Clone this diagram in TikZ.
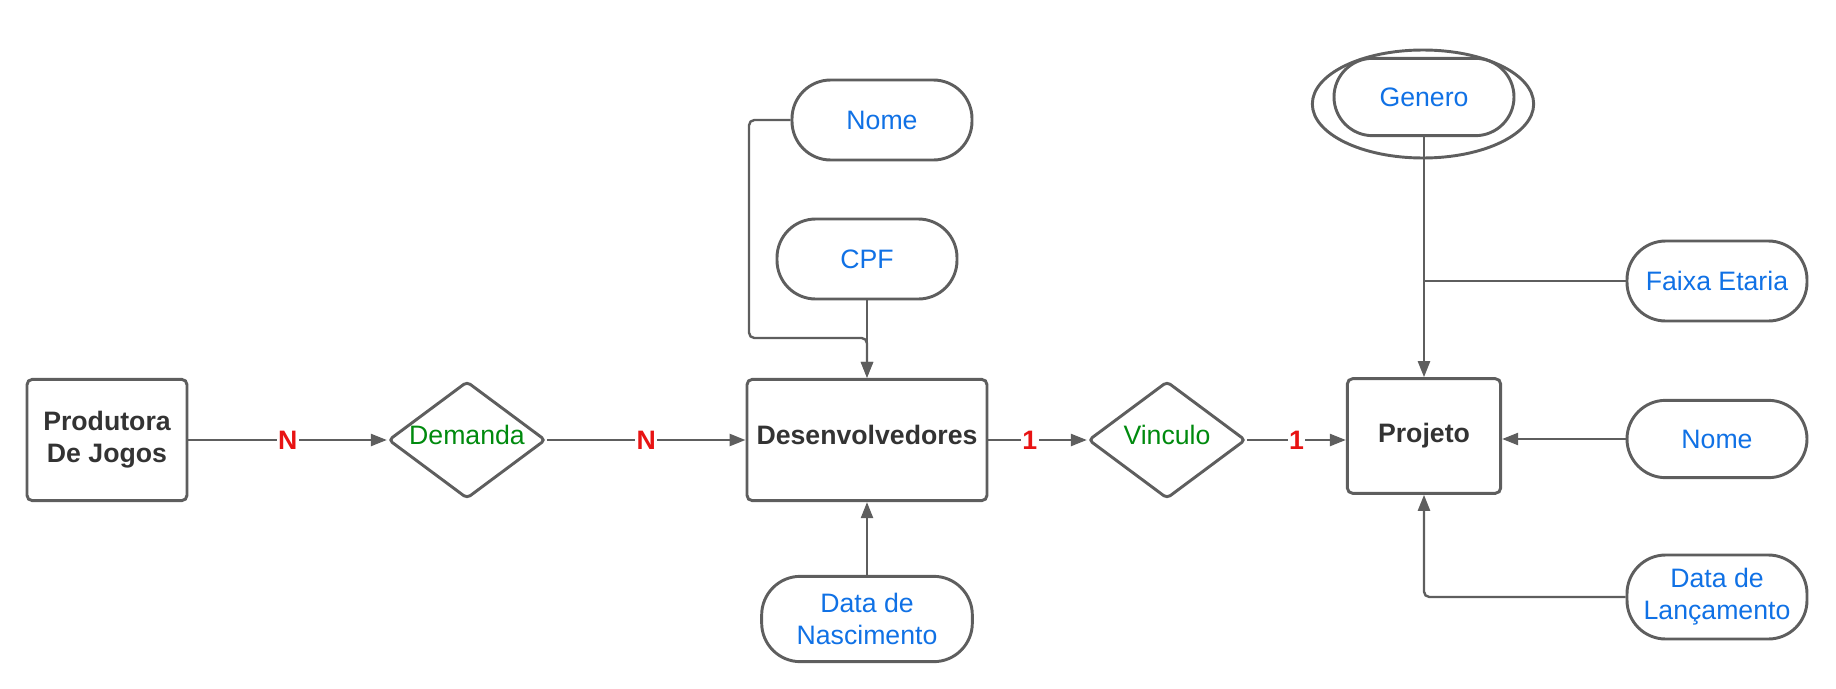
\documentclass[tikz,border=0pt]{standalone}
\usepackage{fontspec}
\setmainfont{Liberation Sans}
\usepackage{xcolor}
\usepackage{tikz}
\usetikzlibrary{arrows.meta}
\usetikzlibrary{shapes.geometric}
\usetikzlibrary{calc}

\definecolor{linegray}{HTML}{5E5E5E}
\definecolor{textgray}{HTML}{333333}
\definecolor{attrblue}{HTML}{1071E5}
\definecolor{relgreen}{HTML}{008A0E}
\definecolor{cardred}{HTML}{E81313}
\newcommand{\diagfont}{\fontsize{20}{24}\selectfont}

\begin{document}
\begin{tikzpicture}[x=75pt, y=-75pt, font=\diagfont,
    entity/.style={draw=linegray, line width=2.2pt, rounded corners=4pt, text=textgray,
        font=\diagfont\bfseries, align=center, inner sep=0pt},
    attr/.style={draw=linegray, line width=2.2pt, rounded corners=29pt, text=attrblue,
        align=center, minimum width=135pt, minimum height=60pt, inner sep=0pt},
    rel/.style={draw=linegray, line width=2.2pt, diamond, rounded corners=3pt,
        minimum width=118pt, minimum height=88pt, inner sep=0pt},
    reltext/.style={text=relgreen, yshift=3.5pt},
    wire/.style={draw=linegray, line width=1.8pt},
    link/.style={wire, -{Triangle[length=12pt, width=9pt]}},
    card/.style={midway, fill=white, inner sep=1pt, text=cardred, font=\diagfont\bfseries}]
    \useasboundingbox (0,0) rectangle (18.36,6.89);

    \node[entity, minimum width=120pt, minimum height=91pt] (produtora) at (1.07,4.40) {Produtora\\De Jogos};
    \node[rel] (demanda) at (4.67,4.40) {};
    \node[reltext] (demandatxt) at (demanda) {Demanda};
    \node[entity, minimum width=180pt, minimum height=91pt] (desenv) at (8.67,4.40) {};
    \node[text=textgray, font=\diagfont\bfseries, yshift=3.5pt] (desenvtxt) at (desenv) {Desenvolvedores};
    \node[rel] (vinculo) at (11.67,4.40) {};
    \node[reltext] (vinculotxt) at (vinculo) {Vinculo};
    \node[entity, minimum width=115pt, minimum height=86pt] (projeto) at (14.24,4.36) {Projeto};

    \node[attr] (nomedes) at (8.82,1.20) {Nome};
    \node[attr] (cpf) at (8.67,2.59) {CPF};
    \node[attr, minimum width=158pt, minimum height=64pt] (nascimento) at (8.67,6.19) {Data de\\Nascimento};

    \node[draw=linegray, line width=2.2pt, ellipse, minimum width=166pt, minimum height=81pt] (generoout) at (14.23,1.04) {};
    \node[attr, minimum height=58pt] (genero) at (14.24,0.97) {Genero};
    \node[attr] (faixa) at (17.17,2.81) {Faixa Etaria};
    \node[attr, minimum height=58pt] (nomeproj) at (17.17,4.39) {Nome};
    \node[attr, minimum height=63pt] (lancamento) at (17.17,5.97) {Data de\\Lançamento};

    \draw[link] (produtora) -- (demanda) node[card] {N};
    \draw[link] (demanda) -- (desenv) node[card] {N};
    \draw[link] (desenv) -- (vinculo) node[card, pos=0.42] {1};
    \draw[link] (vinculo.east) -- (vinculo.east -| projeto.west) node[card] {1};

    \coordinate (bendnome) at (7.49,3.38);
    \draw[link, rounded corners=4pt] (nomedes.west) -| (bendnome) -| (desenv.north);
    \draw[link] (cpf) -- (desenv);
    \draw[link] (nascimento) -- (desenv);

    \coordinate (joinfaixa) at (faixa.west -| projeto.north);
    \draw[link] (genero) -- (projeto);
    \draw[wire] (faixa.west) -- (joinfaixa);
    \draw[link] (nomeproj.west) -- (nomeproj.west -| projeto.east);
    \draw[link, rounded corners=4pt] (lancamento.west) -| (projeto.south);
\end{tikzpicture}
\end{document}
